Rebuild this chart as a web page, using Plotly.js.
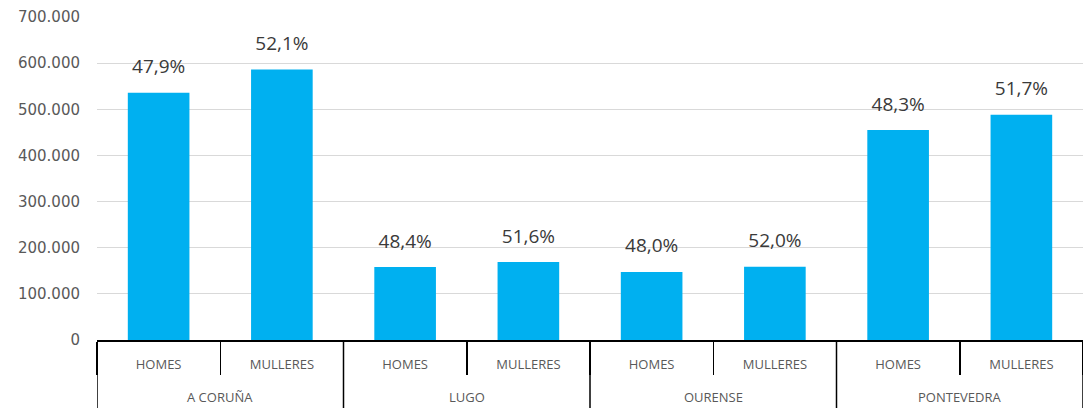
<!DOCTYPE html>
<html><head><meta charset="utf-8">
<script src="https://cdn.plot.ly/plotly-3.0.1.min.js"></script>
<style>html,body{margin:0;padding:0;background:#fff}</style>
</head><body>
<div id="chart" style="width:1083px;height:408px"></div>
<script>
const provinces = ["A CORUÑA","A CORUÑA","LUGO","LUGO","OURENSE","OURENSE","PONTEVEDRA","PONTEVEDRA"];
const sexes = ["HOMES","MULLERES","HOMES","MULLERES","HOMES","MULLERES","HOMES","MULLERES"];
const population = [536000, 586000, 158000, 169000, 147500, 158500, 455000, 488000];
const shareLabels = ["47,9%","52,1%","48,4%","51,6%","48,0%","52,0%","48,3%","51,7%"];
const yTickVals = [0,100000,200000,300000,400000,500000,600000,700000];

// unique category keys built from the two label arrays
const keys = provinces.map((p, i) => p + ' · ' + sexes[i]);

// group boundaries / centres in category index units
const groups = [];
provinces.forEach((p, i) => {
  if (!groups.length || groups[groups.length - 1].name !== p) groups.push({name: p, start: i, end: i});
  else groups[groups.length - 1].end = i;
});

const bars = {
  type: 'bar',
  x: keys,
  y: population,
  marker: {color: '#00B0F0'},
  hoverinfo: 'skip'
};
const labels = {
  type: 'scatter',
  mode: 'markers+text',
  x: keys,
  y: population,
  text: shareLabels,
  textposition: 'top center',
  textfont: {family: 'Open Sans', size: 19, color: '#3a3a3a'},
  marker: {size: 22, color: 'rgba(0,0,0,0)'},
  hoverinfo: 'skip',
  cliponaxis: false
};

const plotH = 408 - 17 - 68;
const bottomPaper = -68 / plotH;

const shapes = [];
groups.forEach(g => {
  shapes.push({type: 'line', xref: 'x', yref: 'paper', x0: g.start - 0.5, x1: g.start - 0.5, y0: 0, y1: bottomPaper,
    line: {color: '#000000', width: 1.5}});
});
const last = groups[groups.length - 1];
shapes.push({type: 'line', xref: 'x', yref: 'paper', x0: last.end + 0.5, x1: last.end + 0.5, y0: 0, y1: bottomPaper,
  line: {color: '#000000', width: 1.5}});

const annotations = groups.map(g => ({
  xref: 'x', yref: 'paper',
  x: (g.start + g.end) / 2, y: bottomPaper,
  yshift: 11, yanchor: 'middle',
  text: g.name, showarrow: false,
  font: {family: 'Open Sans', size: 13, color: '#595959'}
}));

const layout = {
  width: 1083, height: 408,
  margin: {l: 97, r: 0, t: 17, b: 68},
  paper_bgcolor: '#ffffff', plot_bgcolor: '#ffffff',
  showlegend: false,
  bargap: 0.5,
  separators: ',.',
  xaxis: {
    type: 'category',
    range: [-0.5, 7.5],
    tickvals: keys,
    ticktext: sexes,
    showline: true, linecolor: '#000000', linewidth: 1.5,
    ticks: 'outside', tickson: 'boundaries', ticklen: 33, tickcolor: '#000000', tickwidth: 1.5,
    ticklabelstandoff: 12,
    tickangle: 0,
    tickfont: {family: 'Open Sans', size: 13, color: '#595959'},
    showgrid: false
  },
  yaxis: {
    range: [0, 700000],
    tickvals: yTickVals,
    tickformat: ',d',
    gridcolor: '#d9d9d9', gridwidth: 1,
    zeroline: false, showline: false,
    ticks: '', ticklabelstandoff: 16,
    tickfont: {family: 'DejaVu Sans', size: 15, color: '#595959'}
  },
  shapes: shapes,
  annotations: annotations
};
Plotly.newPlot('chart', [bars, labels], layout, {displayModeBar: false, staticPlot: true});
</script>
</body></html>
